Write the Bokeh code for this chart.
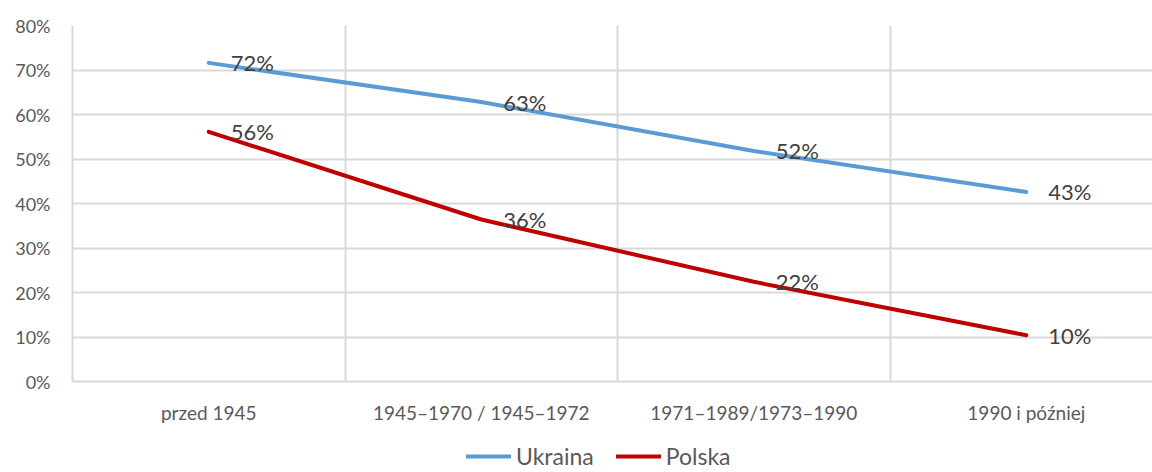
from bokeh.plotting import figure
from bokeh.layouts import column
from bokeh.models import ColumnDataSource, FixedTicker, Range1d, Legend, LegendItem
from bokeh.embed import file_html
from bokeh.resources import INLINE
from bokeh.core.properties import value

categories = ["przed 1945", "1945\u20131970 / 1945\u20131972", "1971\u20131989/1973\u20131990", "1990 i p\u00f3\u017aniej"]
ukraina = [71.6, 62.8, 51.8, 42.6]
polska = [56.1, 36.4, 22.4, 10.4]
ukraina_labels = ["72%", "63%", "52%", "43%"]
polska_labels = ["56%", "36%", "22%", "10%"]
series_names = ["Ukraina", "Polska"]
series_colors = ["#5b9bd5", "#c00000"]
y_ticks = [0, 10, 20, 30, 40, 50, 60, 70, 80]

FONT = "Lato"
xs = [i + 0.5 for i in range(len(categories))]

p = figure(width=1152, height=440, output_backend="svg", toolbar_location=None,
           x_range=Range1d(0, 3.963), y_range=Range1d(0, 80))
p.min_border_left = 72
p.min_border_right = 0
p.min_border_top = 25
p.min_border_bottom = 59
p.outline_line_color = None
p.background_fill_color = "white"

src_u = ColumnDataSource(dict(x=xs, y=ukraina, lab=ukraina_labels))
src_p = ColumnDataSource(dict(x=xs, y=polska, lab=polska_labels))
sources = [src_u, src_p]

for src, col in zip(sources, series_colors):
    p.line("x", "y", source=src, line_color=col, line_width=4, line_cap="round")
    p.text("x", "y", text="lab", source=src, x_offset=22, text_align="left",
           text_baseline="middle", text_font=value(FONT), text_font_size="22px",
           text_color="#404040")

# axes
p.xaxis.ticker = FixedTicker(ticks=xs)
p.xaxis.major_label_overrides = {x: c for x, c in zip(xs, categories)}
p.yaxis.ticker = FixedTicker(ticks=y_ticks)
p.yaxis.major_label_overrides = {t: f"{t}%" for t in y_ticks}
for ax in (p.xaxis, p.yaxis):
    ax.axis_line_color = "#d9d9d9"
    ax.axis_line_width = 2
    ax.major_tick_line_color = None
    ax.minor_tick_line_color = None
    ax.major_tick_out = 0
    ax.major_tick_in = 0
    ax.major_label_text_font = FONT
    ax.major_label_text_color = "#595959"
p.xaxis.major_label_text_font_size = "19px"
p.yaxis.major_label_text_font_size = "18px"
p.xaxis.major_label_standoff = 19
p.yaxis.major_label_standoff = 22

p.xgrid.ticker = FixedTicker(ticks=[1, 2, 3])
p.xgrid.grid_line_color = "#d9d9d9"
p.xgrid.grid_line_width = 2
p.ygrid.ticker = FixedTicker(ticks=y_ticks[1:])
p.ygrid.grid_line_color = "#d9d9d9"
p.ygrid.grid_line_width = 2

# legend strip (series lines fall outside this strip's range; only legend glyphs show)
lg = figure(width=1152, height=32, output_backend="svg", toolbar_location=None,
            x_range=Range1d(0, 1), y_range=Range1d(-1, 0))
lg.min_border = 0
lg.axis.visible = False
lg.grid.visible = False
lg.outline_line_color = None
items = []
for name, col, src in zip(series_names, series_colors, sources):
    r = lg.line("x", "y", source=src, line_color=col, line_width=4, line_cap="round")
    items.append(LegendItem(label=name, renderers=[r]))
legend = Legend(items=items, orientation="horizontal", location=(394, 2),
                label_text_font=FONT, label_text_font_size="23px",
                label_text_color="#595959", glyph_width=45, glyph_height=20,
                label_standoff=5, spacing=22, padding=0, margin=0,
                border_line_color=None, background_fill_alpha=0)
lg.add_layout(legend, "center")

layout = column(p, lg, spacing=0)
open("out.html", "w").write(file_html(layout, INLINE))
